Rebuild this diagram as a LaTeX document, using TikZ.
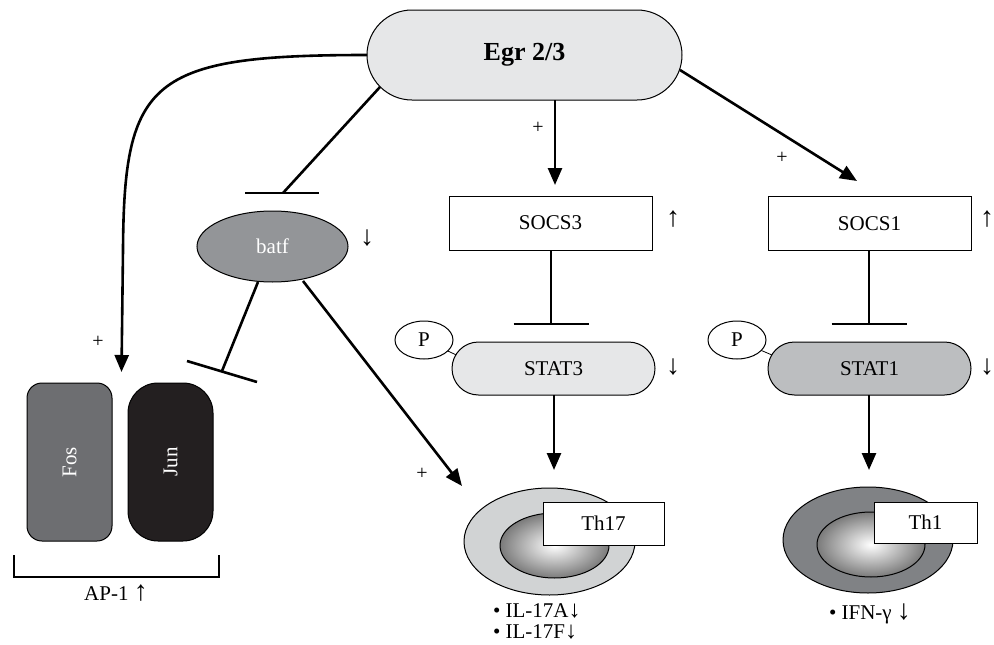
\documentclass[tikz,border=0pt]{standalone}
\usepackage{fontspec}
\setmainfont{Liberation Serif}
\usetikzlibrary{arrows.meta,shapes.geometric}
\definecolor{egrc}{HTML}{E6E7E8}
\definecolor{stat1c}{HTML}{BCBEC0}
\definecolor{batfc}{HTML}{939598}
\definecolor{fosc}{HTML}{6D6E71}
\definecolor{junc}{HTML}{231F20}
\definecolor{th17c}{HTML}{D1D3D4}
\definecolor{th1c}{HTML}{808285}
\newcommand{\myup}{{\fontsize{28}{28}\selectfont ↑}}
\newcommand{\mydown}{{\fontsize{28}{28}\selectfont ↓}}
\newcommand{\mysmalldown}{{\fontsize{24}{24}\selectfont ↓}}
\begin{document}
\begin{tikzpicture}[x=1pt,y=-1pt,
  every node/.style={font=\fontsize{21}{24}\selectfont, inner sep=0pt, outer sep=0pt},
  conn/.style={line width=2.6pt},
  act/.style={conn,-{Triangle[length=17pt,width=14pt]}},
  outl/.style={draw=black, line width=1pt},
  boxnode/.style={outl, fill=white, rectangle},
  pnode/.style={outl, fill=white, ellipse, minimum width=58pt, minimum height=38pt, font=\fontsize{21}{24}\selectfont},
  plus/.style={font=\fontsize{20}{24}\selectfont},
  nucleus/.style={outl, ellipse, inner color=white, outer color=black!52},
  thin link/.style={line width=0.8pt}]
\fill[white] (0,0) rectangle (994,645);
\useasboundingbox (0,0) rectangle (994,645);

% Egr 2/3
\node[outl, fill=egrc, minimum width=315pt, minimum height=90pt, rounded corners=45pt,
      font=\bfseries\fontsize{26}{30}\selectfont] (egr) at (524.5,55) {Egr 2/3};

% SOCS boxes
\node[boxnode, minimum width=203pt, minimum height=54pt] (socs3) at (550.5,223) {SOCS3};
\node (socs3up) at (673,219) {\myup};
\node[boxnode, minimum width=203pt, minimum height=54pt] (socs1) at (869.5,223.5) {SOCS1};
\node (socs1up) at (987,219) {\myup};

% STAT nodes
\node[outl, fill=egrc, minimum width=203pt, minimum height=53pt, rounded corners=26.5pt] (stat3) at (553.5,368.5) {STAT3};
\node (stat3dn) at (673,367) {\mydown};
\node[outl, fill=stat1c, minimum width=203pt, minimum height=53pt, rounded corners=26.5pt] (stat1) at (869.5,368.5) {STAT1};
\node (stat1dn) at (987,367) {\bfseries\mydown};

% P circles
\coordinate (p3c) at (424,340);
\coordinate (p3e) at (456.2,354.9);
\draw[thin link] (p3c) -- (p3e);
\node[pnode] (p3) at (p3c) {P};
\coordinate (p1c) at (737,340);
\coordinate (p1e) at (771.7,354.9);
\draw[thin link] (p1c) -- (p1e);
\node[pnode] (p1) at (p1c) {P};

% Egr -> SOCS3
\coordinate (t3) at (555,185);
\draw[act] (egr.south -| t3) -- (t3);
\node[plus] (plus1) at (538,128) {+};
% Egr -> SOCS1
\coordinate (e1) at (680,70);
\coordinate (t1) at (857,181);
\draw[act] (e1) -- (t1);
\node[plus] (plus2) at (782,158) {+};

% SOCS -| STAT
\coordinate (i3) at (551,324);
\draw[conn] (socs3.south -| i3) -- (i3);
\draw[conn] ([xshift=-37.5pt]i3) -- ([xshift=37.5pt]i3);
\coordinate (i1) at (869,324);
\draw[conn] (socs1.south -| i1) -- (i1);
\draw[conn] ([xshift=-37.5pt]i1) -- ([xshift=37.5pt]i1);

% STAT -> cells
\coordinate (a3) at (554,470);
\draw[act] (stat3.south -| a3) -- (a3);
\coordinate (a1) at (869,470);
\draw[act] (stat1.south -| a1) -- (a1);

% Th17 cell
\node[outl, ellipse, fill=th17c, minimum width=171pt, minimum height=107pt] (th17cell) at (549.5,541.5) {};
\node[nucleus, minimum width=109pt, minimum height=65pt] (th17nuc) at (554.5,545.5) {};
\node[boxnode, minimum width=121pt, minimum height=43pt] (th17) at (603.5,523.5) {Th17};
\node[anchor=west] (il17a) at (493,611) {• IL-17A\mysmalldown};
\node[anchor=west] (il17f) at (493,632) {• IL-17F\mysmalldown};

% Th1 cell
\node[outl, ellipse, fill=th1c, minimum width=170pt, minimum height=106pt] (th1cell) at (868,540) {};
\node[nucleus, minimum width=108pt, minimum height=65pt] (th1nuc) at (871,544.5) {};
\node[boxnode, minimum width=103pt, minimum height=41pt] (th1) at (925.5,522.5) {Th1};
\node[anchor=west] (ifn) at (829,614) {• IFN-γ \mydown};

% batf
\node[outl, ellipse, fill=batfc, minimum width=151pt, minimum height=71pt, text=white] (batf) at (272.5,246.5) {batf};
\node (batfdn) at (367,238) {\mydown};

% Egr -| batf
\coordinate (eb) at (380,87);
\coordinate (ib) at (283,193);
\draw[conn] (eb) -- (ib);
\draw[conn] ([xshift=-38pt]ib) -- ([xshift=36pt]ib);

% batf -| AP-1
\coordinate (bs) at (258,282);
\coordinate (ia) at (222,371);
\coordinate (ia1) at (187,361);
\coordinate (ia2) at (257,382);
\draw[conn] (bs) -- (ia);
\draw[conn] (ia1) -- (ia2);

% batf -> Th17
\coordinate (bt) at (303,281);
\coordinate (tt) at (462,486);
\draw[act] (bt) -- (tt);
\node[plus] (plus4) at (422,474) {+};

% Fos / Jun
\node[outl, fill=fosc, rotate=90, minimum width=158pt, minimum height=85pt, rounded corners=15pt, text=white] (fos) at (69.5,462) {Fos};
\node[outl, fill=junc, rotate=90, minimum width=158pt, minimum height=85pt, rounded corners=30pt, text=white] (jun) at (170.5,462) {Jun};

% Egr -> AP-1 (curved)
\coordinate (tap) at (121.5,372);
\draw[act] (egr.west) .. controls (150,55) and (124,80) .. (123,250) -- (tap);
\node[plus] (plus3) at (98,342) {+};

% AP-1 bracket
\coordinate (bl) at (14,555);
\coordinate (br) at (219,555);
\draw[line width=2.4pt] (bl) -- ++(0,22) -| (br);
\node (ap1) at (116,593) {AP-1 \myup};
\end{tikzpicture}
\end{document}
